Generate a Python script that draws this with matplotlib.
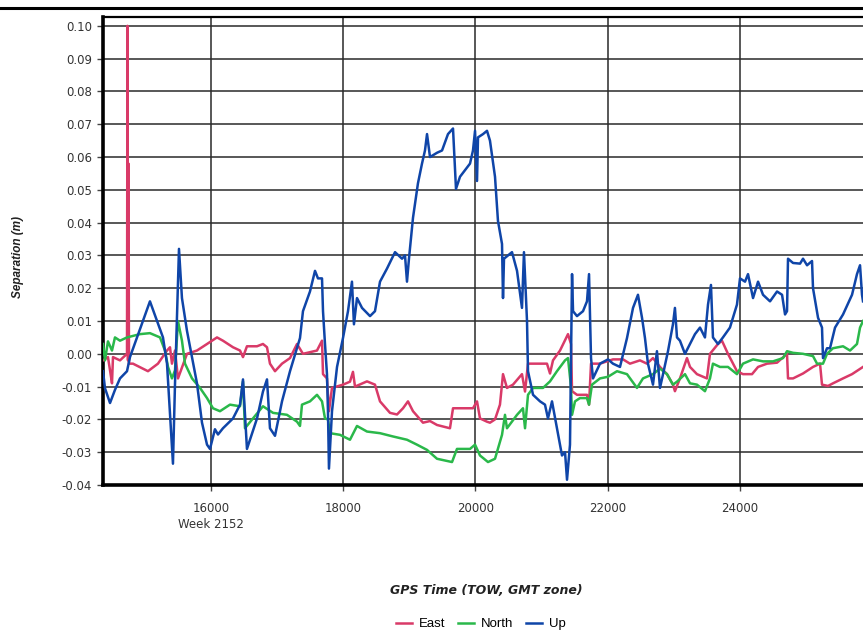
# plot
import matplotlib
matplotlib.use('Agg')
import matplotlib.pyplot as plt
from matplotlib.lines import Line2D

# GPS time of week (s) and separation (m)
east_t = [14367, 14442, 14473, 14503, 14518, 14624, 14730, 14737, 14745, 14752, 14760,
          14820, 15047, 15198, 15335, 15380, 15410, 15456, 15501, 15637, 15788, 15940,
          16091, 16181, 16333, 16439, 16484, 16544, 16696, 16786, 16847, 16892, 16968,
          17074, 17195, 17301, 17391, 17603, 17679, 17694, 17754, 17784, 17830, 17996,
          18102, 18147, 18178, 18359, 18480, 18556, 18707, 18813, 18904, 18979, 19055,
          19206, 19312, 19418, 19614, 19660, 19872, 19962, 20023, 20068, 20174, 20219,
          20295, 20370, 20416, 20476, 20567, 20703, 20749, 20794, 20976, 21081, 21127,
          21172, 21278, 21399, 21444, 21460, 21535, 21686, 21717, 21747, 21883, 22079,
          22231, 22336, 22487, 22593, 22684, 22790, 22896, 22986, 23016, 23092, 23198,
          23244, 23349, 23500, 23546, 23667, 23727, 23818, 23954, 24045, 24182, 24273,
          24409, 24560, 24711, 24726, 24802, 24953, 25104, 25210, 25240, 25331, 25406,
          25558, 25694, 25860]
east_v = [-0.002, -0.001, -0.005, -0.009, -0.001, -0.002, 0.000, 0.100, -0.002, 0.058, -0.003,
          -0.003, -0.0053, -0.003, 0.001, 0.002, -0.003, 0.001, -0.0075, 0.000, 0.001, 0.003,
          0.005, 0.004, 0.002, 0.001, -0.001, 0.0023, 0.0023, 0.003, 0.002, -0.003, -0.0053,
          -0.003, -0.0013, 0.003, 0.000, 0.001, 0.004, -0.0062, -0.0075, -0.0175, -0.0104, -0.0094,
          -0.0085, -0.0055, -0.010, -0.0084, -0.0094, -0.0145, -0.018, -0.0185, -0.0166, -0.0145, -0.0175,
          -0.021, -0.0205, -0.0217, -0.0227, -0.0166, -0.0166, -0.0166, -0.0145, -0.0197, -0.0207, -0.021,
          -0.020, -0.0155, -0.0062, -0.0104, -0.0094, -0.0062, -0.0115, -0.003, -0.003, -0.003, -0.006,
          -0.002, 0.001, 0.006, 0.003, -0.0114, -0.0125, -0.0125, -0.0155, -0.003, -0.003, -0.0017,
          -0.0017, -0.003, -0.002, -0.003, -0.0013, -0.004, -0.0062, -0.0094, -0.0114, -0.0075, -0.0013,
          -0.004, -0.0062, -0.0075, 0.000, 0.003, 0.004, 0.000, -0.0053, -0.0062, -0.0062, -0.004,
          -0.003, -0.0027, 0.000, -0.0075, -0.0075, -0.006, -0.004, -0.003, -0.0094, -0.0098, -0.009,
          -0.0075, -0.0062, -0.004]

north_t = [14367, 14397, 14442, 14503, 14548, 14624, 14730, 14926, 15077, 15229, 15304,
           15350, 15410, 15456, 15501, 15561, 15607, 15713, 15834, 15940, 16030, 16136,
           16287, 16439, 16484, 16514, 16635, 16786, 16938, 17149, 17301, 17346, 17376,
           17497, 17603, 17679, 17724, 17769, 17800, 17951, 18102, 18208, 18359, 18556,
           18752, 18964, 19115, 19267, 19418, 19645, 19720, 19917, 19993, 20068, 20189,
           20295, 20401, 20446, 20476, 20628, 20718, 20749, 20794, 20870, 21021, 21127,
           21232, 21354, 21399, 21444, 21460, 21505, 21580, 21686, 21717, 21762, 21883,
           22004, 22140, 22291, 22442, 22533, 22684, 22790, 22896, 22986, 23047, 23168,
           23244, 23349, 23470, 23546, 23591, 23697, 23818, 23954, 24045, 24197, 24348,
           24499, 24651, 24711, 24802, 24953, 25104, 25165, 25255, 25316, 25406, 25558,
           25664, 25769, 25815, 25860]
north_v = [0.003, -0.002, 0.0038, 0.001, 0.005, 0.004, 0.005, 0.006, 0.0063, 0.005, 0.001,
           -0.004, -0.0075, -0.005, 0.010, 0.004, -0.003, -0.0075, -0.0104, -0.0135, -0.0166, -0.0175,
           -0.0155, -0.016, -0.0084, -0.0227, -0.0197, -0.016, -0.018, -0.0186, -0.0207, -0.022, -0.0155,
           -0.0145, -0.0125, -0.0145, -0.0197, -0.020, -0.0242, -0.0247, -0.0262, -0.022, -0.0237, -0.0242,
           -0.0252, -0.0262, -0.0277, -0.0293, -0.032, -0.033, -0.029, -0.029, -0.0277, -0.031, -0.033,
           -0.032, -0.0247, -0.0186, -0.0227, -0.0186, -0.0166, -0.0227, -0.0125, -0.0104, -0.0104, -0.0084,
           -0.0053, -0.002, -0.0013, -0.010, -0.0186, -0.0145, -0.0135, -0.0135, -0.0155, -0.0094, -0.0075,
           -0.007, -0.0053, -0.0062, -0.0104, -0.0075, -0.0062, -0.0045, -0.0062, -0.0094, -0.0085, -0.0062,
           -0.009, -0.0094, -0.0114, -0.0075, -0.003, -0.004, -0.004, -0.0062, -0.003, -0.0017, -0.0023,
           -0.0023, -0.0013, 0.0008, 0.0003, 0.000, -0.0007, -0.003, -0.003, 0.000, 0.0017, 0.0023,
           0.001, 0.003, 0.008, 0.010]

up_t = [14367, 14397, 14473, 14548, 14624, 14730, 14775, 15077, 15274, 15335, 15425,
        15456, 15516, 15561, 15637, 15788, 15864, 15940, 15985, 16060, 16106, 16181,
        16333, 16439, 16484, 16544, 16696, 16786, 16847, 16892, 16968, 17074, 17195,
        17346, 17391, 17497, 17573, 17618, 17679, 17694, 17724, 17754, 17769, 17784,
        17830, 17906, 17996, 18072, 18132, 18162, 18208, 18284, 18405, 18480, 18556,
        18662, 18783, 18889, 18934, 18964, 18994, 19055, 19130, 19191, 19236, 19267,
        19312, 19418, 19494, 19584, 19660, 19705, 19766, 19917, 19962, 19993, 20023,
        20038, 20114, 20174, 20219, 20295, 20340, 20401, 20416, 20431, 20552, 20628,
        20703, 20733, 20779, 20794, 20870, 20976, 21051, 21096, 21157, 21232, 21308,
        21354, 21384, 21429, 21460, 21475, 21535, 21626, 21686, 21717, 21747, 21777,
        21883, 22004, 22079, 22185, 22291, 22382, 22457, 22518, 22563, 22608, 22684,
        22744, 22790, 22835, 22911, 22986, 23016, 23047, 23092, 23168, 23244, 23319,
        23395, 23470, 23516, 23561, 23591, 23667, 23742, 23848, 23954, 24000, 24076,
        24121, 24197, 24273, 24348, 24454, 24560, 24636, 24681, 24711, 24726, 24802,
        24908, 24953, 25014, 25089, 25104, 25180, 25240, 25255, 25316, 25361, 25437,
        25558, 25694, 25769, 25815, 25845, 25860]
up_v = [-0.0053, -0.0105, -0.015, -0.011, -0.0075, -0.0053, -0.001, 0.016, 0.005, -0.003, -0.0335,
        -0.009, 0.032, 0.017, 0.007, -0.009, -0.021, -0.0277, -0.029, -0.023, -0.0246, -0.0227,
        -0.0197, -0.0155, -0.0078, -0.029, -0.0197, -0.0115, -0.0078, -0.0227, -0.025, -0.0145, -0.0053,
        0.0048, 0.013, 0.019, 0.0253, 0.023, 0.023, 0.013, 0.003, -0.0062, -0.0175, -0.035,
        -0.0175, -0.004, 0.0048, 0.013, 0.022, 0.009, 0.017, 0.014, 0.0115, 0.013, 0.022,
        0.026, 0.031, 0.029, 0.030, 0.022, 0.029, 0.0415, 0.052, 0.058, 0.062, 0.067,
        0.060, 0.0613, 0.062, 0.067, 0.0687, 0.0503, 0.054, 0.058, 0.062, 0.068, 0.0527,
        0.066, 0.067, 0.068, 0.065, 0.054, 0.0405, 0.0335, 0.017, 0.029, 0.031, 0.0253,
        0.014, 0.031, 0.010, -0.0053, -0.0125, -0.0145, -0.0155, -0.0197, -0.0145, -0.0227, -0.031,
        -0.030, -0.0384, -0.0277, 0.0243, 0.013, 0.0115, 0.013, 0.016, 0.0243, -0.0013, -0.0075,
        -0.003, -0.0017, -0.003, -0.004, 0.0048, 0.014, 0.018, 0.011, 0.0048, -0.003, -0.0094,
        0.0008, -0.0104, -0.0063, 0.0008, 0.009, 0.014, 0.005, 0.004, 0.000, 0.003, 0.006,
        0.008, 0.005, 0.015, 0.021, 0.005, 0.003, 0.005, 0.008, 0.015, 0.023, 0.022,
        0.0243, 0.017, 0.022, 0.018, 0.016, 0.019, 0.018, 0.012, 0.013, 0.029, 0.0277,
        0.0275, 0.029, 0.027, 0.0283, 0.020, 0.011, 0.008, -0.0013, 0.0017, 0.0017, 0.008,
        0.012, 0.018, 0.0243, 0.027, 0.018, 0.016]

x_ticks = [16000, 18000, 20000, 22000, 24000]
x_tick_labels = ['16000\nWeek 2152', '18000', '20000', '22000', '24000']
y_ticks = [-0.04, -0.03, -0.02, -0.01, 0.00, 0.01, 0.02, 0.03, 0.04, 0.05, 0.06, 0.07, 0.08, 0.09, 0.10]

plt.rcParams['font.family'] = ['DejaVu Sans']

W, H = 863, 637
fig = plt.figure(figsize=(W / 100, H / 100), dpi=100)
ax = fig.add_axes([103 / W, 1 - 485 / H, 1 - 103 / W, (485 - 17) / H])

ax.plot(east_t, east_v, color='#d93a68', lw=1.8, label='East', zorder=3)
ax.plot(north_t, north_v, color='#2ab84a', lw=1.8, label='North', zorder=3)
ax.plot(up_t, up_v, color='#0f45a8', lw=1.8, label='Up', zorder=4)

ax.set_xlim(14367, 25860)
ax.set_ylim(-0.04, 0.1027)
ax.set_xticks(x_ticks)
ax.set_xticklabels(x_tick_labels, linespacing=1.3)
ax.set_yticks(y_ticks)
ax.set_yticklabels(['%.2f' % v for v in y_ticks])
ax.grid(True, color='#2a2a2a', lw=1.1)
ax.set_axisbelow(True)
ax.tick_params(axis='both', length=4, width=1, color='#444444', labelsize=8.5, labelcolor='#333333')
ax.tick_params(axis='x', pad=8)
ax.tick_params(axis='y', pad=4)

for side in ['left', 'bottom']:
    ax.spines[side].set_linewidth(2.6)
    ax.spines[side].set_color('black')
ax.spines['top'].set_linewidth(1.6)
ax.spines['right'].set_visible(False)

# outer frame line above the plot
fig.add_artist(Line2D([0, 1], [1 - 7.5 / H, 1 - 7.5 / H], color='black', lw=2.2))

fig.text(18 / W, 1 - 257 / H, 'Separation (m)', rotation=90, ha='center', va='center',
         fontsize=8.5, fontweight='bold', fontstyle='italic', color='#222222',
         family='Liberation Sans')
fig.text(486 / W, 1 - 591 / H, 'GPS Time (TOW, GMT zone)', ha='center', va='center',
         fontsize=9, fontweight='bold', fontstyle='italic', color='#222222')

fig.legend(loc='center', bbox_to_anchor=(481 / W, 1 - 624 / H), ncol=3, frameon=False,
           prop={'family': 'Liberation Sans', 'size': 9.5}, handlelength=1.2,
           handletextpad=0.5, columnspacing=1.0)

fig.savefig('out.png', dpi=100)
